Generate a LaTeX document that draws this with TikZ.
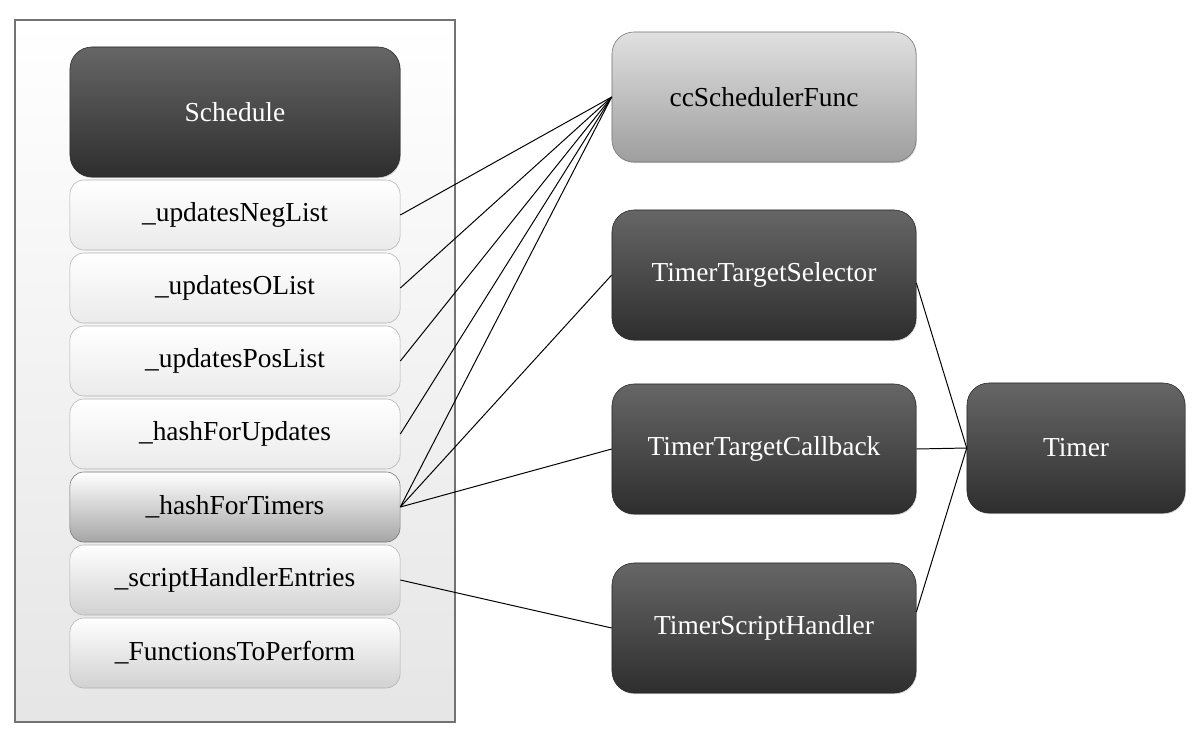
\documentclass[tikz,border=0pt]{standalone}
\usepackage{fontspec}
\setmainfont{Liberation Serif}
\usetikzlibrary{shadows}
\begin{document}
\begin{tikzpicture}[x=0.025cm,y=-0.025cm]
            \tikzset{
                box/.style={rounded corners=0.55cm,minimum width=7.6cm,minimum height=3.25cm,
                    font=\fontsize{19.5}{22}\selectfont,inner sep=0pt,
                    drop shadow={opacity=0.35,shadow xshift=0.6pt,shadow yshift=-0.8pt}},
                darkbox/.style={box,draw=black!85,top color=black!60,bottom color=black!82,text=white},
                greybox/.style={box,draw=black!55,top color=black!12,bottom color=black!38,text=black},
                row/.style={rounded corners=0.35cm,minimum width=8.25cm,minimum height=1.75cm,
                    font=\fontsize{19.5}{22}\selectfont,inner sep=0pt,draw=black!30,
                    top color=white,bottom color=black!8},
                link/.style={black,line width=0.7pt},}
            \useasboundingbox (0,0) rectangle (1200,743);
            \draw [black!55,top color=white,bottom color=black!10,line width=0.8pt] (15,20) rectangle (455,722);
            % schedule and its members
            \node [darkbox,minimum width=8.25cm] (sched) at (235,112) {Schedule};
            \node [row] (neg) at (235,215) {\_updatesNegList};
            \node [row] (zero) at (235,288) {\_updatesOList};
            \node [row] (pos) at (235,361) {\_updatesPosList};
            \node [row] (hupd) at (235,434) {\_hashForUpdates};
            \node [row,draw=black!55,top color=white,bottom color=black!35] (htim) at (235,507) {\_hashForTimers};
            \node [row,bottom color=black!18] (script) at (235,580) {\_scriptHandlerEntries};
            \node [row,bottom color=black!18] (perform) at (235,653) {\_FunctionsToPerform};
            % right hand side
            \node [greybox] (func) at (764,97) {ccSchedulerFunc};
            \node [darkbox] (sel) at (764,275) {TimerTargetSelector};
            \node [darkbox] (call) at (764,449) {TimerTargetCallback};
            \node [darkbox] (handler) at (764,628) {TimerScriptHandler};
            \node [darkbox,minimum width=5.45cm] (timer) at (1076,448) {Timer};
            \foreach \n in {neg,zero,pos,hupd,htim}
                \draw [link] (\n.east) -- (func.west);
            \draw [link] (htim.east) -- (sel.west);
            \draw [link] (htim.east) -- (call.west);
            \draw [link] (script.east) -- (handler.west);
            \draw [link] (sel.east) ++(0,8) -- (timer.west);
            \draw [link] (call.east) -- (timer.west);
            \draw [link] (handler.east) ++(0,-16) -- (timer.west);
        \end{tikzpicture}
\end{document}
